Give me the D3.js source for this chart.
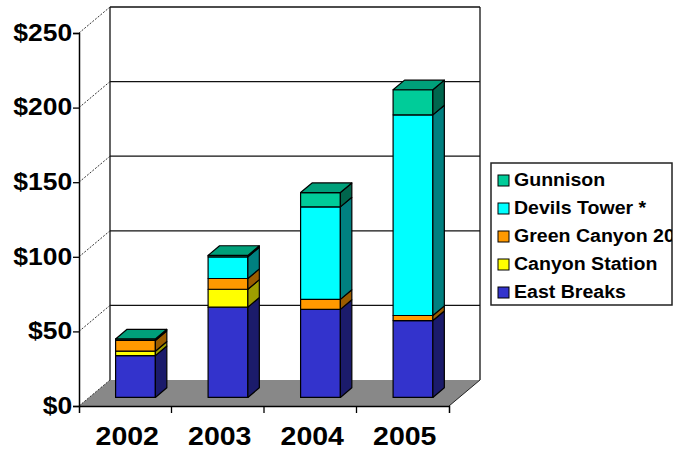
<!DOCTYPE html>
<html>
<head>
<meta charset="utf-8">
<script src="https://cdn.jsdelivr.net/npm/d3@7"></script>
<style>
  body { margin: 0; background: #fff; }
  svg { display: block; }
  text { font-family: "Liberation Sans", Arial, Helvetica, sans-serif; font-weight: bold; fill: #000; }
</style>
</head>
<body>
<svg id="chart" width="695" height="452"></svg>
<script>
// Annual values per field, in $ (stacked bottom to top)
const years         = ["2002", "2003", "2004", "2005"];
const eastBreaks    = [28, 60.5, 59, 51.5];
const canyonStation = [3, 12, 0, 0];
const greenCanyon   = [7.2, 7.2, 6.7, 3.4];
const devilsTower   = [0, 14.5, 62, 134.5];
const gunnison      = [1, 1, 9.6, 16.8];

const seriesNames = ["East Breaks", "Canyon Station", "Green Canyon 205", "Devils Tower *", "Gunnison"];
const seriesValues = [eastBreaks, canyonStation, greenCanyon, devilsTower, gunnison];
const legendOrder = ["Gunnison", "Devils Tower *", "Green Canyon 205", "Canyon Station", "East Breaks"];
const yTicks = [0, 50, 100, 150, 200, 250];

// face colours: front, side, top
const palette = {
  "East Breaks":      ["#3333CC", "#1B1B6B", "#2A2AA8"],
  "Canyon Station":   ["#FFFF00", "#9E9E00", "#CCCC00"],
  "Green Canyon 205": ["#FF9900", "#9A5C00", "#CC7A00"],
  "Devils Tower *":   ["#00FFFF", "#008080", "#00CCCC"],
  "Gunnison":         ["#00CC99", "#00664D", "#00A07A"]
};

const table = years.map((yr, i) => {
  const row = { year: yr };
  seriesNames.forEach((s, k) => row[s] = seriesValues[k][i]);
  return row;
});
const stacked = d3.stack().keys(seriesNames)(table);

const svg = d3.select("#chart");

// front plane geometry and depth offset of the 3-D box
const plotLeft = 79, plotRight = 449, plotBase = 406, plotTop = 33;
const DX = 31, DY = 26;
const depthFront = 0.33, depthBack = 0.70;

const y = d3.scaleLinear().domain([0, 250]).range([plotBase, plotTop]);
const x = d3.scaleBand().domain(years).range([plotLeft, plotRight])
  .paddingInner(0.57).paddingOuter(0.285);

// back wall
const wall = svg.append("g");
wall.append("rect")
  .attr("x", plotLeft + DX).attr("y", y(250) - DY)
  .attr("width", plotRight - plotLeft).attr("height", y(0) - y(250))
  .attr("fill", "#fff");
wall.selectAll("line.grid").data(yTicks.filter(t => t > 0)).join("line")
  .attr("class", "grid")
  .attr("x1", plotLeft + DX).attr("x2", plotRight + DX)
  .attr("y1", d => y(d) - DY).attr("y2", d => y(d) - DY)
  .attr("stroke", "#111").attr("stroke-width", 1.3);
[plotLeft + DX, plotRight + DX].forEach(xx => {
  wall.append("line")
    .attr("x1", xx).attr("x2", xx)
    .attr("y1", y(250) - DY).attr("y2", y(0) - DY)
    .attr("stroke", "#111").attr("stroke-width", 1.3);
});

// floor
svg.append("polygon")
  .attr("points", [[plotLeft, y(0)], [plotRight, y(0)], [plotRight + DX, y(0) - DY], [plotLeft + DX, y(0) - DY]].join(" "))
  .attr("fill", "#888");
svg.append("line")
  .attr("x1", plotRight).attr("y1", y(0)).attr("x2", plotRight + DX).attr("y2", y(0) - DY)
  .attr("stroke", "#222").attr("stroke-width", 1);

// side wall diagonals from the value axis
svg.selectAll("line.diag").data(yTicks).join("line")
  .attr("class", "diag")
  .attr("x1", plotLeft).attr("y1", d => y(d))
  .attr("x2", plotLeft + DX).attr("y2", d => y(d) - DY)
  .attr("stroke", "#333").attr("stroke-width", 1)
  .attr("stroke-dasharray", "2,1.5");

// stacked 3-D columns
const bw = x.bandwidth();
const fdx = depthFront * DX, fdy = depthFront * DY;
const ddx = (depthBack - depthFront) * DX, ddy = (depthBack - depthFront) * DY;
const bars = svg.append("g").attr("stroke", "#000").attr("stroke-width", 1.2).attr("stroke-linejoin", "round");

years.forEach((yr, i) => {
  const segs = stacked.map(layer => ({ key: layer.key, v0: layer[i][0], v1: layer[i][1] }))
    .filter(s => s.v1 - s.v0 > 0);
  const topKey = segs.length ? segs[segs.length - 1].key : null;
  const x0 = x(yr) + fdx, x1 = x0 + bw;
  const g = bars.append("g");
  segs.forEach(s => {
    const yb = y(s.v0) - fdy, yt = y(s.v1) - fdy;
    const [cf, cs, ct] = palette[s.key];
    g.append("rect")
      .attr("x", x0).attr("y", yt).attr("width", bw).attr("height", yb - yt)
      .attr("fill", cf);
    g.append("polygon")
      .attr("points", [[x1, yt], [x1 + ddx, yt - ddy], [x1 + ddx, yb - ddy], [x1, yb]].join(" "))
      .attr("fill", cs);
    if (s.key === topKey) {
      g.append("polygon")
        .attr("points", [[x0, yt], [x0 + ddx, yt - ddy], [x1 + ddx, yt - ddy], [x1, yt]].join(" "))
        .attr("fill", ct);
    }
  });
});

// value axis
const yAxis = svg.append("g")
  .attr("transform", `translate(${plotLeft},0)`)
  .call(d3.axisLeft(y).tickValues(yTicks).tickSize(6).tickPadding(0).tickFormat(d => "$" + d));
yAxis.attr("font-family", null).attr("font-size", null);
yAxis.select(".domain").attr("stroke", "#000").attr("stroke-width", 1.5);
yAxis.selectAll(".tick line").attr("stroke", "#000").attr("stroke-width", 1.3);
yAxis.selectAll(".tick text")
  .attr("font-size", 23)
  .attr("transform", "scale(1.15,1)");

// category axis
const xAxis = svg.append("g")
  .attr("transform", `translate(0,${plotBase})`)
  .call(d3.axisBottom(x).tickSizeInner(0).tickSizeOuter(7).tickPadding(21));
xAxis.attr("font-family", null).attr("font-size", null);
xAxis.select(".domain").attr("stroke", "#000").attr("stroke-width", 1.5);
xAxis.selectAll(".tick text")
  .attr("font-size", 25)
  .attr("transform", "translate(2,0) scale(1.14,1)");
xAxis.selectAll("line.edge").data(years.slice(1)).join("line")
  .attr("class", "edge")
  .attr("x1", d => x(d) - x.step() * x.paddingInner() / 2)
  .attr("x2", d => x(d) - x.step() * x.paddingInner() / 2)
  .attr("y1", 0).attr("y2", 7)
  .attr("stroke", "#000").attr("stroke-width", 1.3);

// legend
const lg = { x: 491, y: 163, w: 181, h: 142 };
svg.append("clipPath").attr("id", "legend-clip")
  .append("rect").attr("x", lg.x).attr("y", lg.y).attr("width", lg.w).attr("height", lg.h);
svg.append("rect")
  .attr("x", lg.x).attr("y", lg.y).attr("width", lg.w).attr("height", lg.h)
  .attr("fill", "#fff").attr("stroke", "#222").attr("stroke-width", 1.5);
const items = svg.append("g").attr("clip-path", "url(#legend-clip)")
  .selectAll("g").data(legendOrder).join("g")
  .attr("transform", (d, i) => `translate(0,${186 + i * 28})`);
items.append("rect")
  .attr("x", 498).attr("y", -11).attr("width", 11).attr("height", 11)
  .attr("fill", d => palette[d][0]).attr("stroke", "#000").attr("stroke-width", 1);
items.append("text")
  .attr("transform", "translate(514,0) scale(1.03,1)")
  .attr("font-size", 19)
  .text(d => d);
</script>
</body>
</html>
